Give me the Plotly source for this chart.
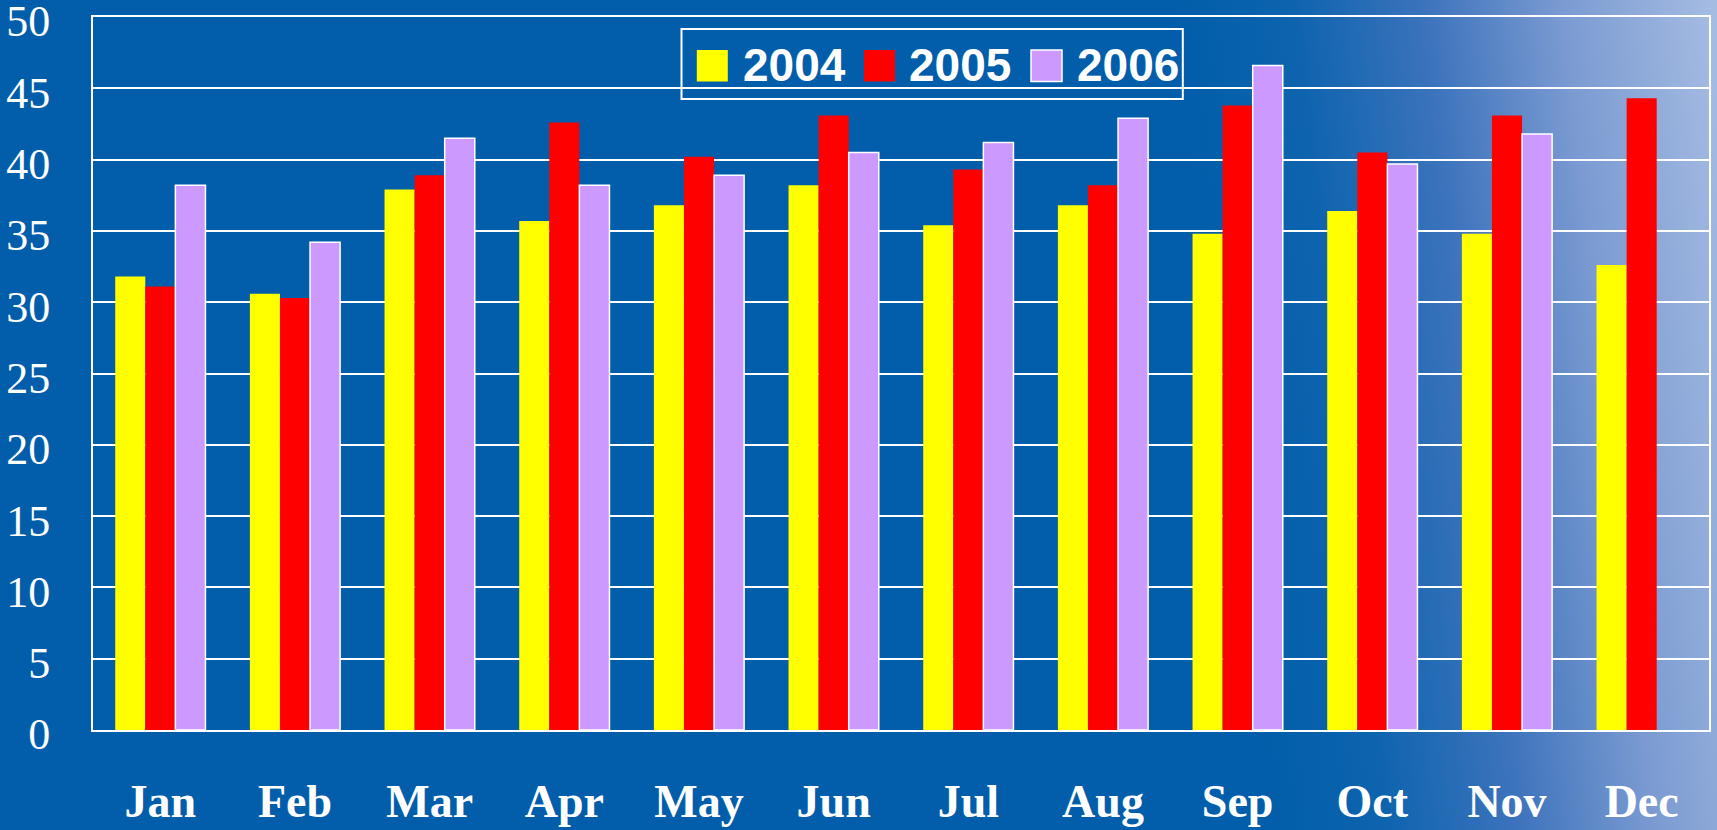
import base64
import plotly.graph_objects as go

months = ["Jan", "Feb", "Mar", "Apr", "May", "Jun", "Jul", "Aug", "Sep", "Oct", "Nov", "Dec"]
series_names = ["2004", "2005", "2006"]
values_2004 = [31.8, 30.6, 37.9, 35.7, 36.8, 38.2, 35.4, 36.8, 34.8, 36.4, 34.8, 32.6]
values_2005 = [31.1, 30.3, 38.9, 42.6, 40.2, 43.1, 39.3, 38.2, 43.8, 40.5, 43.1, 44.3]
values_2006 = [38.2, 34.2, 41.5, 38.2, 38.9, 40.5, 41.2, 42.9, 46.6, 39.7, 41.8, None]
y_ticks = [0, 5, 10, 15, 20, 25, 30, 35, 40, 45, 50]

colors = ["#FFFF00", "#FF0000", "#CC99FF"]
outline = [0, 0, 1.5]

W, H = 1717, 830
ML, MR, MT, MB = 93, 8, 17, 100
PW, PH = W - ML - MR, H - MT - MB


def px(x):
    return (x - ML) / PW


def py(y):
    return (H - MB - y) / PH


svg = f'''<svg xmlns="http://www.w3.org/2000/svg" width="{W}" height="{H}" viewBox="0 0 {W} {H}">
<defs><linearGradient id="g" gradientUnits="userSpaceOnUse" x1="1180" y1="0" x2="1717" y2="-60">
<stop offset="0" stop-color="#025EAA"/>
<stop offset="0.2" stop-color="#0D63AE"/>
<stop offset="0.45" stop-color="#3C73BC"/>
<stop offset="0.7" stop-color="#7A9AD1"/>
<stop offset="1" stop-color="#A8BEE3"/>
</linearGradient></defs>
<rect width="{W}" height="{H}" fill="url(#g)"/>
</svg>'''
bg_src = "data:image/svg+xml;base64," + base64.b64encode(svg.encode()).decode()

fig = go.Figure()
for name, vals, c, lw in zip(series_names, [values_2004, values_2005, values_2006], colors, outline):
    fig.add_trace(go.Bar(
        x=months, y=vals, name=name,
        marker=dict(color=c, line=dict(color="white", width=lw)),
    ))

shapes = [dict(type="rect", xref="paper", yref="paper",
               x0=px(681.5), x1=px(1182.8), y0=py(99), y1=py(29),
               line=dict(color="white", width=2), fillcolor="rgba(0,0,0,0)", layer="above")]
annotations = []
sw_x = [696.8, 864.0, 1031.0]
tx_x = [740.8, 907.3, 1074.5]
for i, name in enumerate(series_names):
    shapes.append(dict(type="rect", xref="paper", yref="paper",
                       x0=px(sw_x[i]), x1=px(sw_x[i] + 31), y0=py(81.5), y1=py(50),
                       fillcolor=colors[i],
                       line=dict(color="white", width=outline[i]) if outline[i] else dict(width=0),
                       layer="above"))
    annotations.append(dict(xref="paper", yref="paper", x=px(tx_x[i]), y=py(65),
                            xanchor="left", yanchor="middle", showarrow=False, text=name,
                            font=dict(family="Liberation Sans, Arial", size=46, color="white", weight="bold")))

fig.update_layout(
    width=W, height=H,
    margin=dict(l=ML, r=MR, t=MT, b=MB, autoexpand=False),
    paper_bgcolor="#025EAA",
    plot_bgcolor="rgba(0,0,0,0)",
    barmode="group", bargap=0.33, bargroupgap=0,
    showlegend=False,
    images=[dict(source=bg_src, xref="paper", yref="paper",
                 x=-ML / PW, y=1 + MT / PH, sizex=W / PW, sizey=H / PH,
                 xanchor="left", yanchor="top", sizing="stretch", layer="below")],
    shapes=shapes,
    annotations=annotations,
    xaxis=dict(showgrid=False, showline=True, linecolor="white", linewidth=2, mirror=True,
               ticks="", ticklabelstandoff=30, automargin=False, ticklabeloverflow="allow",
               tickfont=dict(family="Liberation Serif, Times New Roman", size=46, color="white", weight="bold")),
    yaxis=dict(range=[0, 50], tickvals=y_ticks, showgrid=True, gridcolor="white", gridwidth=2,
               showline=True, linecolor="white", linewidth=2, mirror=True, zeroline=False,
               ticks="", ticklabelstandoff=32, ticklabelshift=4, automargin=False, ticklabeloverflow="allow",
               tickfont=dict(family="Liberation Serif, Times New Roman", size=44, color="white")),
)

fig.write_html("out.html", config={"displayModeBar": False},
               post_script="document.body.style.margin='0';document.body.style.overflow='hidden';")
